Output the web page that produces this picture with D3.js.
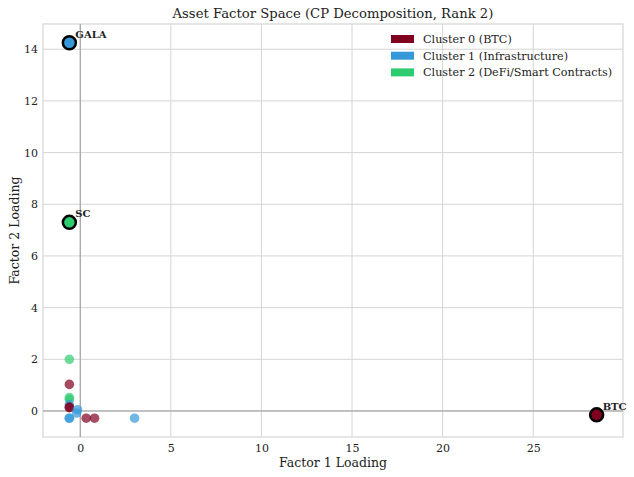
<!DOCTYPE html>
<html>
<head>
<meta charset="utf-8">
<script src="https://cdn.jsdelivr.net/npm/d3@7"></script>
<style>
    body { margin: 0; background: #fff; }
    svg text { font-family: "DejaVu Serif", serif; fill: #222; }
    .grid line { stroke: #d5d5d5; stroke-width: 1; }
    .axis path, .axis line { display: none; }
    .axis text { font-size: 11px; }
</style>
</head>
<body>
<script>
(function() {

    ////////////////////
    //Global Variables//
    ////////////////////
    // small assets (unlabelled)
    var smallX = [-0.6, -0.6, -0.6, -0.6, -0.6, -0.6, -0.6, -0.15, -0.2, -0.6, -0.6, 0.33, 0.79, 3.0];
    var smallY = [2.0, 1.03, 0.52, 0.45, 0.25, 0.15, 0.13, 0.05, -0.08, -0.28, -0.28, -0.28, -0.28, -0.28];
    var smallCluster = [2, 0, 2, 2, 1, 0, 0, 1, 1, 1, 1, 0, 0, 1];

    // labelled assets
    var bigNames = ["GALA", "SC", "BTC"];
    var bigX = [-0.6, -0.6, 28.5];
    var bigY = [14.25, 7.3, -0.15];
    var bigCluster = [1, 2, 0];

    var clusterNames = ["Cluster 0 (BTC)", "Cluster 1 (Infrastructure)", "Cluster 2 (DeFi/Smart Contracts)"];
    var clusterColors = ["#800020", "#3498db", "#2ecc71"];

    var xTicks = [0, 5, 10, 15, 20, 25];
    var yTicks = [0, 2, 4, 6, 8, 10, 12, 14];

    // chart frame
    var width = 634, height = 477,
        left = 43, right = 623, top = 24, bottom = 437;

    window.onload = setChart();

    // matplotlib-like 5% margins
    function pad(arr) {
        var lo = d3.min(arr), hi = d3.max(arr), m = (hi - lo) * 0.05;
        return [lo - m, hi + m];
    };

    function setChart() {
        var svg = d3.select("body")
            .append("svg")
            .attr("width", width)
            .attr("height", height);

        var allX = smallX.concat(bigX), allY = smallY.concat(bigY);

        var xScale = d3.scaleLinear()
            .domain(pad(allX))
            .range([left, right]);
        var yScale = d3.scaleLinear()
            .domain(pad(allY))
            .range([bottom, top]);

        // grid
        svg.append("g").attr("class", "grid")
            .selectAll("line").data(xTicks).enter().append("line")
            .attr("x1", function(d) { return xScale(d); })
            .attr("x2", function(d) { return xScale(d); })
            .attr("y1", top).attr("y2", bottom);
        svg.append("g").attr("class", "grid")
            .selectAll("line").data(yTicks).enter().append("line")
            .attr("y1", function(d) { return yScale(d); })
            .attr("y2", function(d) { return yScale(d); })
            .attr("x1", left).attr("x2", right);

        // frame
        svg.append("rect")
            .attr("x", left).attr("y", top)
            .attr("width", right - left).attr("height", bottom - top)
            .attr("fill", "none")
            .attr("stroke", "#d5d5d5")
            .attr("stroke-width", 1.2);

        // zero lines
        svg.append("line")
            .attr("x1", xScale(0)).attr("x2", xScale(0))
            .attr("y1", top).attr("y2", bottom)
            .attr("stroke", "#999").attr("stroke-width", 1);
        svg.append("line")
            .attr("y1", yScale(0)).attr("y2", yScale(0))
            .attr("x1", left).attr("x2", right)
            .attr("stroke", "#999").attr("stroke-width", 1);

        // axes
        svg.append("g").attr("class", "axis")
            .attr("transform", "translate(0," + bottom + ")")
            .call(d3.axisBottom(xScale).tickValues(xTicks).tickSize(0).tickPadding(7));
        svg.append("g").attr("class", "axis")
            .attr("transform", "translate(" + left + ",0)")
            .call(d3.axisLeft(yScale).tickValues(yTicks).tickSize(0).tickPadding(5));

        // small points
        svg.append("g")
            .selectAll("circle")
            .data(smallX)
            .enter()
            .append("circle")
            .attr("cx", function(d) { return xScale(d); })
            .attr("cy", function(d, i) { return yScale(smallY[i]); })
            .attr("r", 4.8)
            .style("fill", function(d, i) { return clusterColors[smallCluster[i]]; })
            .style("fill-opacity", 0.7);

        // big labelled points
        svg.append("g")
            .selectAll("circle")
            .data(bigX)
            .enter()
            .append("circle")
            .attr("cx", function(d) { return xScale(d); })
            .attr("cy", function(d, i) { return yScale(bigY[i]); })
            .attr("r", 6.5)
            .style("fill", function(d, i) { return clusterColors[bigCluster[i]]; })
            .style("stroke", "#000")
            .style("stroke-width", 2.5);

        svg.append("g")
            .selectAll("text")
            .data(bigNames)
            .enter()
            .append("text")
            .attr("x", function(d, i) { return xScale(bigX[i]) + 6; })
            .attr("y", function(d, i) { return yScale(bigY[i]) - 5; })
            .attr("font-size", "10px")
            .attr("font-weight", "bold")
            .text(function(d) { return d; });

        // legend
        var legend = svg.append("g")
            .selectAll("g")
            .data(clusterNames)
            .enter()
            .append("g")
            .attr("transform", function(d, i) { return "translate(391," + (39 + i * 16.7) + ")"; });
        legend.append("rect")
            .attr("x", 0).attr("y", -4)
            .attr("width", 23).attr("height", 8)
            .style("fill", function(d, i) { return clusterColors[i]; });
        legend.append("text")
            .attr("x", 32).attr("y", 4)
            .attr("font-size", "11.2px")
            .text(function(d) { return d; });

        // titles
        svg.append("text")
            .attr("x", (left + right) / 2).attr("y", 18)
            .attr("text-anchor", "middle")
            .attr("font-size", "13.2px")
            .text("Asset Factor Space (CP Decomposition, Rank 2)");
        svg.append("text")
            .attr("x", (left + right) / 2).attr("y", 467)
            .attr("text-anchor", "middle")
            .attr("font-size", "12.5px")
            .text("Factor 1 Loading");
        svg.append("text")
            .attr("transform", "translate(19," + ((top + bottom) / 2) + ") rotate(-90)")
            .attr("text-anchor", "middle")
            .attr("font-size", "12.5px")
            .text("Factor 2 Loading");
    };
})();
</script>
</body>
</html>
